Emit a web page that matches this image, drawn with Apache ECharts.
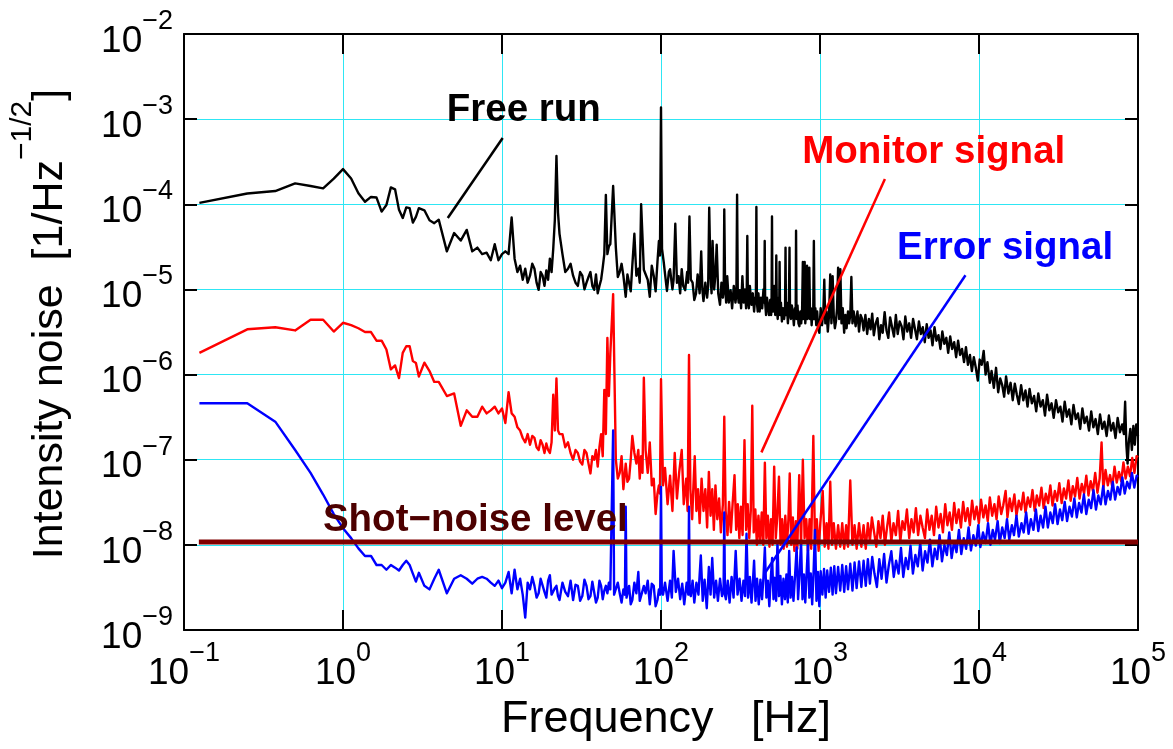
<!DOCTYPE html>
<html><head><meta charset="utf-8">
<script src="https://cdn.jsdelivr.net/npm/echarts@6/dist/echarts.min.js"></script>
<style>html,body{margin:0;padding:0;background:#fff}#chart{width:1173px;height:749px}</style>
</head><body><div id="chart"></div>
<script>
// ---- tick labels (decade exponents) ----
const xTickExponents = [-1, 0, 1, 2, 3, 4, 5];
const yTickExponents = [-9, -8, -7, -6, -5, -4, -3, -2];

// ---- Free run (black): [frequency Hz, noise 1/Hz^1/2] ----
const freeRun = [
[0.125,1.04e-4],[0.25,1.34e-4],[0.375,1.43e-4],[0.5,1.76e-4],[0.625,1.64e-4],[0.75,1.54e-4],[0.875,2.0e-4],[1.0,2.59e-4],[1.125,2.01e-4],[1.25,1.35e-4],[1.375,1.07e-4],[1.5,1.22e-4],[1.625,1.2e-4],[1.75,8.2e-5],[1.875,9.8e-5],[2.0,1.58e-4],[2.125,1.5e-4],[2.25,8.6e-5],[2.375,6.9e-5],[2.5,9.2e-5],[2.625,9.0e-5],[2.75,6.1e-5],[2.875,7.1e-5],[3.0,9.0e-5],
[3.25,8.5e-5],[3.5,6.5e-5],[3.75,6.0e-5],[4,6.6e-5],[4.5,2.8e-5],[5,4.6e-5],[5.5,3.75e-5],[6,5.0e-5],[6.5,2.8e-5],[7,3.1e-5],[7.5,2.6e-5],[8,2.7e-5],[8.5,2.2e-5],[9,3.4e-5],[9.5,2.2e-5],[10,2.6e-5],[10.5,2.8e-5],[11,2.6e-5],[11.5,7.0e-5],[12,2.3e-5],[12.5,1.6e-5],[13,1.9e-5],[13.5,1.3e-5],[14,1.75e-5],[14.5,1.2e-5],[15,1.45e-5],[15.5,2.0e-5],[16,1.75e-5],[16.5,1.2e-5],[17,9.9e-6],[17.5,1.6e-5],[18,1.45e-5],[18.5,1.1e-5],[19,1.67e-5],[19.5,1.3e-5],[20,2.3e-5],[20.5,1.6e-5],[21,3.0e-5],[21.5,6.6e-5],[22,3.7e-4],[22.5,8.0e-5],[23,4.5e-5],[24,2.6e-5],[25,1.6e-5],[26,1.75e-5],[27,2.0e-5],[28,1.45e-5],[29,1.2e-5],[30,1.1e-5],[31,1.6e-5],[32,1.45e-5],[33,1.0e-5],[34,1.2e-5],[35,1.4e-5],[36,1.6e-5],[37,1.1e-5],[38,9.9e-6],[39,1.5e-5],[40,9.0e-6],[41,1.1e-5],[42,1.3e-5],[43,1.8e-5],[44,2.6e-5],[45,1.29e-4],[46,2.6e-5],[47,3.2e-5],[48,3.4e-5],[50,1.64e-4],[52,3.1e-5],[53.5,1.4e-5],[55,1.6e-5],[56.5,2.0e-5],[58,1.45e-5],[60,8.2e-6],[61.5,1.5e-5],[63,1.2e-5],[64.5,9.5e-6],[66,1.9e-5],[68,4.5e-5],[70,1.45e-5],[72,1.75e-5],[73.5,1.2e-5],[75,1.0e-4],[78,1.7e-5],[80,1.75e-5],[82.5,1.3e-5],[85,8.2e-6],[87.5,1.9e-5],[90,1.45e-5],[92.5,9.5e-6],[95,2.1e-5],[97,3.7e-5],[98.5,2.5e-5],[100,1.37e-3],
[101.5,3.0e-5],[104,2.1e-5],[107,1.3e-5],[109,9.6e-6],[112,1.6e-5],[114,1.73e-5],[118,1.0e-5],[120,1.3e-5],[123,5.9e-5],[126,1.2e-5],[129,1.43e-5],[132,9e-6],[135,1.73e-5],[138,1.1e-5],[142,9.8e-6],[146,1.6e-5],[148,1.2e-5],[151,7.2e-5],[154,1.3e-5],[158,1.2e-5],[162,7.5e-6],[166,8.9e-6],[170,1.5e-5],[175,9e-6],[179,2.8e-5],[182,1.0e-5],[185,7.3e-6],[190,1.2e-5],[195,8e-6],[198,1.1e-5],[201,9.1e-5],[205,1.4e-5],[208,9e-6],[211,3.7e-5],[216,1.0e-5],[220,1.5e-5],[224,3.35e-5],[229,9e-6],[235,6.6e-6],[240,1.2e-5],[245,8e-6],[248,1.0e-5],[250,8.7e-5],[253,1.1e-5],[257,7e-6],[261,1.43e-5],[267,7e-6],[274,9.8e-6],[280,6e-6],[287,1.1e-5],[294,7e-6],[298,9e-6],[301,1.3e-4],[304,9e-6],[308,7e-6],[313,9.8e-6],[319,6e-6],[325,1.43e-5],[331,7e-6],[337,1.0e-5],[343,6e-6],[346,9e-6],[349,4.25e-5],[352,8e-6],[357,6e-6],[362,1.1e-5],[371,6.6e-6],[378,9e-6],[385,5.5e-6],[391,8e-6],[395,7e-6],[398,9.3e-5],[401,7e-6],[406,5.5e-6],[410,9e-6],[417,5.5e-6],[425,8e-6],[433,6e-6],[441,1.0e-5],[446,7e-6],[449,3.7e-5],[452,7e-6],[458,5e-6],[464,8e-6],[470,8.1e-6],[478,5e-6],[486,7.5e-6],[493,5e-6],[496,7e-6],[499,7.2e-5],[502,7e-6],[508,5.5e-6],[515,1.1e-5],[523,5e-6],[528,7e-6],[531,2.5e-5],[535,6e-6],[542,4.5e-6],[550,8e-6],[554,6e-6],[557,2.1e-5],[561,5e-6],[568,7e-6],[576,4.2e-6],[585,6e-6],[595,4.5e-6],[603,6e-6],[607,3.1e-5],[611,5e-6],[619,7e-6],[628,4e-6],[637,6e-6],[643,3.1e-5],[648,5.5e-6],[656,4.5e-6],[665,6.5e-6],[674,5.5e-6],[685,3.8e-6],[696,6e-6],[703,5e-6],[707,4.9e-5],[712,4.5e-6],[722,6.5e-6],[732,4e-6],[742,3.7e-6],[752,5.5e-6],[762,4e-6],[772,6e-6],[780,2.1e-5],[786,4.5e-6],[794,6e-6],[801,2.1e-5],[808,4e-6],[818,5.5e-6],[829,1.9e-5],[836,4.5e-6],[846,6e-6],[857,1.8e-5],[866,4.5e-6],[876,6e-6],[886,3.8e-6],[896,5.5e-6],[906,4.5e-6],[915,3.7e-5],[924,4.5e-6],[935,6e-6],[947,3.8e-6],[960,5.5e-6],[975,3.5e-6],[990,3.1e-6],[1010,6e-6],[1030,3.8e-6],[1050,5.5e-6],[1064,1.3e-5],[1080,4e-6],[1100,5.5e-6],[1120,3.2e-6],[1140,5e-6],[1160,1.5e-5],[1180,4e-6],[1201,1.43e-5],[1220,5e-6],[1240,3.5e-6],[1260,4.2e-6],[1280,6e-6],[1300,1.8e-5],[1320,4.5e-6],[1343,1.73e-5],[1365,4e-6],[1390,6e-6],[1419,3.1e-6],[1445,5e-6],[1470,3.5e-6],[1500,5.5e-6],[1525,4e-6],[1550,5e-6],[1575,1.4e-5],[1600,4e-6],[1630,5.5e-6],[1675,3.7e-6],[1720,5.5e-6],[1760,3.2e-6],[1800,5e-6],[1840,4.5e-6],[1880,3.3e-6],[1930,5e-6],[1980,3e-6],[2030,4.5e-6],
[2080,3.4e-6],[2130,5.2e-6],[2180,2.9e-6],[2240,4.0e-6],[2300,4.6e-6],[2360,2.6e-6],[2420,3.8e-6],[2480,3.1e-6],[2550,5.4e-6],[2620,3.3e-6],[2690,2.7e-6],[2760,4.7e-6],[2840,3.6e-6],[2920,2.8e-6],[3000,5.0e-6],[3080,3.0e-6],[3170,4.2e-6],[3260,3.7e-6],[3350,2.6e-6],[3440,4.8e-6],[3540,3.2e-6],[3640,4.0e-6],[3740,2.7e-6],[3850,4.5e-6],[3960,3.4e-6],[4070,2.6e-6],[4190,4.2e-6],[4310,3.0e-6],[4430,3.6e-6],[4560,2.4e-6],[4690,3.9e-6],[4820,2.7e-6],[4960,3.3e-6],[5100,2.2e-6],[5250,3.6e-6],[5400,2.5e-6],[5560,2.9e-6],[5720,2.0e-6],[5880,3.2e-6],[6050,2.3e-6],[6230,2.7e-6],[6400,1.8e-6],[6590,2.8e-6],[6780,2.0e-6],[6980,2.4e-6],[7180,1.6e-6],[7390,2.5e-6],[7600,1.7e-6],[7820,2.0e-6],[8050,1.4e-6],[8280,2.1e-6],[8520,1.3e-6],[8770,1.7e-6],[9020,1.1e-6],[9280,1.6e-6],[9550,1.2e-6],[9830,8.5e-7],[10100,1.5e-6],[10400,1.3e-6],[10700,1.9e-6],[11000,1.0e-6],[11300,1.4e-6],[11700,8.0e-7],[12000,1.1e-6],[12400,7.0e-7],[12800,1.2e-6],[13200,6.2e-7],[13600,9.0e-7],[14000,7.5e-7],[14400,5.5e-7],[14800,9.5e-7],[15300,6.0e-7],[15800,8.0e-7],[16300,5.0e-7],[16800,7.8e-7],[17300,5.8e-7],[17800,4.5e-7],[18400,7.5e-7],[19000,5.0e-7],[19600,6.5e-7],[20200,4.2e-7],[20800,6.8e-7],[21500,4.6e-7],[22200,5.6e-7],[22900,3.7e-7],[23600,6.0e-7],[24400,4.2e-7],[25200,5.0e-7],[26000,3.3e-7],[26800,5.8e-7],[27700,3.8e-7],[28600,4.6e-7],[29500,3.1e-7],[30500,5.0e-7],[31500,3.6e-7],[32500,4.2e-7],[33500,2.8e-7],[34600,4.8e-7],[35700,3.2e-7],[36900,3.9e-7],[38100,2.6e-7],[39300,4.4e-7],[40600,3.0e-7],[41900,3.5e-7],[43300,2.3e-7],[44700,4.0e-7],[46100,2.7e-7],[47600,3.2e-7],[49200,2.2e-7],[50800,3.7e-7],[52400,2.4e-7],[54100,3.0e-7],[55900,2.0e-7],[57700,3.4e-7],[59600,2.3e-7],[61500,2.8e-7],[63500,1.9e-7],[65600,3.3e-7],[67700,2.2e-7],[69900,2.7e-7],[72200,1.8e-7],[74500,3.1e-7],[77000,2.1e-7],[79500,2.6e-7],[81500,2.0e-7],[83000,4.8e-7],[84500,1.5e-7],[86000,9.0e-8],[87500,1.6e-7],[89500,2.3e-7],[91500,1.3e-7],[93500,2.5e-7],[95500,1.5e-7],[97500,2.6e-7],[100000,1.9e-7]
];

// ---- Monitor signal (red) ----
const monitorSignal = [
[0.125,1.8e-6],[0.25,3.4e-6],[0.375,3.6e-6],[0.5,3.3e-6],[0.625,4.4e-6],[0.75,4.4e-6],[0.875,3.2e-6],[1.0,4.06e-6],[1.125,3.8e-6],[1.25,3.5e-6],[1.375,3.16e-6],[1.5,3.16e-6],[1.625,2.5e-6],[1.75,2.5e-6],[1.875,1.97e-6],[2.0,1.15e-6],[2.125,1.28e-6],[2.25,9.1e-7],[2.375,1.8e-6],[2.5,2.15e-6],[2.625,2.15e-6],[2.75,1.44e-6],[2.875,1.37e-6],[3.0,9.5e-7],
[3.25,1.38e-6],[3.5,1.1e-6],[3.75,8.2e-7],[4,8.2e-7],[4.5,5.6e-7],[5,6.0e-7],[5.5,2.5e-7],[6,3.8e-7],[6.5,3.2e-7],[7,3.2e-7],[7.5,4.2e-7],[8,3.5e-7],[8.5,3.8e-7],[9,4.2e-7],[9.5,3.5e-7],[10,4.0e-7],[10.5,2.7e-7],[11,6.2e-7],[11.5,3.5e-7],[12,3.2e-7],[12.5,2.4e-7],[13,2.2e-7],[13.5,1.8e-7],[14,1.6e-7],[14.5,2.0e-7],[15,1.5e-7],[15.5,1.9e-7],[16,1.8e-7],[16.5,1.4e-7],[17,1.3e-7],[17.5,1.7e-7],[18,1.5e-7],[18.5,1.2e-7],[19,1.55e-7],[19.5,1.3e-7],[20,1.2e-7],[20.5,1.6e-7],[21,5.8e-7],[21.5,2.2e-7],[22,9.0e-7],[22.5,2.2e-7],[23,2.0e-7],[24,2.0e-7],[25,1.4e-7],[26,1.6e-7],[27,1.2e-7],[28,1.0e-7],[29,1.3e-7],[30,1.2e-7],[31,9.5e-8],[32,8.8e-8],[33,1.3e-7],[34,1.2e-7],[35,9e-8],[36,6.9e-8],[37,1.1e-7],[38,1.0e-7],[39,1.3e-7],[40,8.3e-8],[41,1.4e-7],[42,2.0e-7],[43,1.1e-7],[44,6.6e-7],[45,2.0e-7],[46,2.7e-6],[47,5.6e-7],[48,1.75e-6],[50,8.8e-6],[52,1.0e-7],[53.5,6e-8],[55,7e-8],[56.5,1.1e-7],[58,4.5e-8],[60,9.0e-8],[61.5,5.5e-8],[63,6.0e-8],[64.5,1.0e-7],[66,1.9e-7],[68,1.2e-7],[70,9.0e-8],[72,1.3e-7],[73.5,6e-8],[75,1.1e-7],[76.5,7e-8],[78,9.2e-7],[80,1.3e-7],[82.5,7e-8],[85,1.6e-7],[87.5,5e-8],[90,6.0e-8],[92.5,2.3e-8],[95,4e-8],[97,5e-8],[98.5,4e-8],[100,8.8e-7],
[103,5.0e-8],[106,8e-8],[110,3.0e-8],[114,6.5e-8],[118,2.5e-8],[122,1.2e-7],[126,3.5e-8],[130,7e-8],[135,1.3e-7],[139,3e-8],[144,6e-8],[147,2.5e-8],[150,1.7e-6],[153,4.5e-8],[157,2e-8],[160,5e-8],[163,1.1e-7],[167,2.5e-8],[171,4.5e-8],[175,1.8e-8],[180,6e-8],[185,2.5e-8],[190,4.5e-8],[195,1.6e-8],[200,7.2e-8],[205,2.2e-8],[210,4.5e-8],[215,1.5e-8],[220,5e-8],[226,2e-8],[232,3.5e-8],[238,1.4e-8],[245,3e-8],[250,3.2e-7],[255,2.5e-8],[262,1.3e-8],[268,3.2e-8],[275,1.4e-8],[282,3e-8],[290,6.6e-8],[297,1.5e-8],[304,3e-8],[311,1.2e-8],[318,2.8e-8],[326,1.3e-8],[335,1.7e-7],[343,1.5e-8],[351,3e-8],[359,1.2e-8],[367,2.5e-8],[375,4.3e-7],[383,1.4e-8],[392,2.6e-8],[401,1e-8],[410,2.2e-8],[420,1.1e-8],[430,2.4e-8],[440,1e-8],[450,9.2e-8],[460,1.2e-8],[470,2.2e-8],[481,9.5e-9],[492,2.0e-8],[503,1.0e-8],[515,8.3e-8],[527,1.2e-8],[539,2.2e-8],[552,6.3e-8],[565,1.0e-8],[578,2.0e-8],[591,9e-9],[605,2.2e-8],[619,9.5e-9],[633,2e-8],[645,6.9e-8],[660,1.0e-8],[675,2.1e-8],[690,8.5e-9],[705,1.9e-8],[720,9e-9],[740,6.6e-8],[760,1.0e-8],[780,1.0e-7],[800,1.2e-8],[820,2e-8],[840,8.5e-9],[860,2.0e-8],[880,9e-9],[908,1.9e-7],[930,1.0e-8],[955,2.0e-8],[980,8.5e-9],[1005,1.8e-8],[1040,4.3e-8],[1070,9.5e-9],[1100,1.8e-8],[1130,9e-9],[1160,5.5e-8],[1190,1.0e-8],[1220,1.8e-8],[1260,9e-9],[1300,1.7e-8],[1340,9.5e-9],[1380,1.8e-8],[1420,9e-9],[1460,1.7e-8],[1500,9.5e-9],[1550,5.7e-8],[1600,1.0e-8],[1650,1.7e-8],[1700,9e-9],[1760,1.8e-8],[1820,9.5e-9],[1880,1.7e-8],[1940,9e-9],[2000,1.8e-8],
[2060,1.1e-8],[2120,2.1e-8],[2190,1.4e-8],[2260,9.5e-9],[2330,1.9e-8],[2400,1.2e-8],[2480,2.2e-8],[2560,1.0e-8],[2640,1.6e-8],[2720,2.4e-8],[2810,1.1e-8],[2900,1.8e-8],[3000,1.3e-8],[3100,2.5e-8],[3200,1.1e-8],[3300,1.9e-8],[3410,1.5e-8],[3520,2.6e-8],[3640,1.2e-8],[3760,2.0e-8],[3880,1.4e-8],[4010,2.7e-8],[4140,1.3e-8],[4280,2.2e-8],[4420,1.6e-8],[4570,1.2e-8],[4720,2.6e-8],[4880,1.5e-8],[5040,2.2e-8],[5210,1.3e-8],[5380,2.8e-8],[5560,1.6e-8],[5740,2.3e-8],[5930,1.4e-8],[6130,3.0e-8],[6330,1.7e-8],[6540,2.4e-8],[6760,1.5e-8],[6980,3.1e-8],[7210,1.8e-8],[7450,2.6e-8],[7700,1.6e-8],[7950,3.2e-8],[8210,1.9e-8],[8480,2.7e-8],[8760,1.7e-8],[9050,3.3e-8],[9350,2.0e-8],[9660,2.8e-8],[9980,1.8e-8],[10300,3.4e-8],[10650,2.1e-8],[11000,2.9e-8],[11350,1.9e-8],[11700,3.6e-8],[12100,2.2e-8],[12500,3.0e-8],[12900,2.0e-8],[13300,3.7e-8],[13800,2.3e-8],[14200,2.9e-8],[14700,4.3e-8],[15100,2.1e-8],[15600,3.5e-8],[16100,2.5e-8],[16700,3.9e-8],[17200,2.2e-8],[17800,3.3e-8],[18400,2.6e-8],[19000,4.1e-8],[19600,2.4e-8],[20300,3.6e-8],[21000,2.8e-8],[21700,4.4e-8],[22400,2.5e-8],[23100,3.8e-8],[23900,2.9e-8],[24700,4.7e-8],[25500,2.7e-8],[26300,4.0e-8],[27200,3.1e-8],[28100,5.0e-8],[29000,2.9e-8],[30000,4.3e-8],[31000,3.3e-8],[32000,5.3e-8],[33100,3.1e-8],[34200,4.6e-8],[35300,3.5e-8],[36500,5.7e-8],[37700,3.3e-8],[38900,4.9e-8],[40200,3.7e-8],[41500,6.1e-8],[42900,3.5e-8],[44300,5.2e-8],[45800,4.0e-8],[47300,6.5e-8],[48800,3.8e-8],[50400,5.6e-8],[52100,4.3e-8],[53800,7.0e-8],[55600,4.1e-8],[57400,6.0e-8],[59000,1.6e-7],[60500,4.5e-8],[62500,7.6e-8],[64600,5.0e-8],[66700,6.6e-8],[68900,4.8e-8],[71200,8.3e-8],[73500,5.4e-8],[75900,7.2e-8],[78400,5.6e-8],[81000,9.3e-8],[83600,6.0e-8],[86300,8.3e-8],[89100,6.4e-8],[92000,1.05e-7],[95000,7.0e-8],[98000,1.1e-7],[100000,1.07e-7]
];

// ---- Error signal (blue) ----
const errorSignal = [
[0.125,4.6e-7],[0.25,4.6e-7],[0.375,2.8e-7],[0.5,1.3e-7],[0.625,7.0e-8],[0.75,3.9e-8],[0.875,2.3e-8],[1.0,1.57e-8],[1.125,1.2e-8],[1.25,9.1e-9],[1.375,7.4e-9],[1.5,7.4e-9],[1.625,5.8e-9],[1.75,5.8e-9],[1.875,5.1e-9],[2.0,5.8e-9],[2.125,5.4e-9],[2.25,5.0e-9],[2.375,5.8e-9],[2.5,6.5e-9],[2.625,5.8e-9],[2.75,4.6e-9],[2.875,3.7e-9],[3.0,4.7e-9],
[3.25,3.3e-9],[3.5,3.0e-9],[3.75,4.0e-9],[4,5.1e-9],[4.5,2.7e-9],[5,4.0e-9],[5.5,4.4e-9],[6,4.0e-9],[6.5,3.5e-9],[7,4.0e-9],[7.5,4.2e-9],[8,4.0e-9],[8.5,3.6e-9],[9,3.3e-9],[9.5,3.8e-9],[10,3.1e-9],[10.5,3.6e-9],[11,4.8e-9],[11.5,2.7e-9],[12,5.1e-9],[12.5,3.0e-9],[13,4.0e-9],[13.5,2.6e-9],[14,1.4e-9],[14.5,3.6e-9],[15,3.0e-9],[15.5,4.2e-9],[16,3.3e-9],[16.5,2.4e-9],[17,2.7e-9],[17.5,4.0e-9],[18,4.0e-9],[18.5,2.8e-9],[19,2.4e-9],[19.5,3.8e-9],[20,4.4e-9],[20.5,2.6e-9],[21,2.7e-9],[21.5,3.1e-9],[22,3.3e-9],[22.5,2.5e-9],[23,2.25e-9],[24,3.6e-9],[25,2.8e-9],[26,2.5e-9],[27,3.8e-9],[28,2.25e-9],[29,3.4e-9],[30,3.3e-9],[31,2.2e-9],[32,2.5e-9],[33,3.9e-9],[34,3.3e-9],[35,2.3e-9],[36,2.5e-9],[37,3.7e-9],[38,3.6e-9],[39,2.1e-9],[40,2.4e-9],[41,3.8e-9],[42,3.3e-9],[43,2.3e-9],[44,2.9e-9],[45,3.3e-9],[46,2.7e-9],[47,3.6e-9],[48,3.0e-9],[49.3,3.0e-9],[50,2.2e-7],[50.7,2.6e-9],[52,2.5e-9],[53.5,3.6e-9],[55,2.7e-9],[56.5,2.1e-9],[58,3.0e-9],[59.3,2.6e-9],[60,2.8e-8],[60.7,2.4e-9],[61.5,2.4e-9],[63,3.3e-9],[64.5,2.0e-9],[66,2.25e-9],[68,3.6e-9],[70,2.7e-9],[72,4.8e-9],[73.5,2.2e-9],[75,2.25e-9],[78,3.3e-9],[80,2.7e-9],[82.5,3.8e-9],[85,2.0e-9],[87.5,3.5e-9],[90,3.3e-9],[92.5,1.9e-9],[95,2.25e-9],[97,3.0e-9],[98.8,2.6e-9],[100,4.8e-8],
[101.2,2.8e-9],[103,2.6e-9],[106,3.6e-9],[110,2.2e-9],[114,3.8e-9],[117,2.4e-9],[120,8.5e-9],[124,2.8e-9],[128,4.0e-9],[132,2.3e-9],[136,3.5e-9],[140,2.0e-9],[145,3.6e-9],[148.5,2.6e-9],[150,2.8e-8],[151.5,2.8e-9],[154,2.5e-9],[158,3.8e-9],[162,2.1e-9],[167,3.6e-9],[172,2.6e-9],[178,7.5e-9],[183,2.2e-9],[188,3.9e-9],[194,1.8e-9],[200,5.5e-9],[205,2.6e-9],[210,7e-9],[216,2.4e-9],[222,3.8e-9],[228,2.2e-9],[235,4.0e-9],[242,2.5e-9],[247.5,3.0e-9],[250,2.4e-8],[252.5,2.6e-9],[256,2.3e-9],[263,3.8e-9],[270,2.1e-9],[278,4.2e-9],[286,2.4e-9],[295,8.5e-9],[303,2.6e-9],[312,4.0e-9],[321,2.2e-9],[330,3.8e-9],[338,2.5e-9],[345,1.35e-8],[353,2.4e-9],[362,4.2e-9],[371,2.1e-9],[378,3.6e-9],[385,6.5e-9],[393,2.2e-9],[402,4.0e-9],[412,2.0e-9],[422,3.9e-9],[432,2.3e-9],[441,4.2e-9],[450,9.3e-9],[460,2.4e-9],[470,3.8e-9],[480,1.9e-9],[490,4.0e-9],[500,7.0e-9],[510,2.3e-9],[520,4.1e-9],[530,2.2e-9],[540,1.1e-8],[552,2.5e-9],[564,4.3e-9],[576,2.0e-9],[589,4.0e-9],[602,2.3e-9],[615,4.5e-9],[627,2.1e-9],[640,8.5e-9],[653,2.4e-9],[667,4.2e-9],[681,2.2e-9],[697,4.4e-9],[713,9.3e-9],[728,2.3e-9],[744,4.6e-9],[760,1.1e-8],[776,2.3e-9],[792,4.5e-9],[808,2.1e-9],[824,4.7e-9],[840,1.0e-8],[857,2.4e-9],[875,4.6e-9],[893,2.0e-9],[911,4.8e-9],[930,1.5e-8],[950,2.2e-9],[970,4.8e-9],[990,1.9e-9],[1010,4.9e-9],[1035,2.6e-9],[1060,5.2e-9],[1085,2.4e-9],[1110,5.0e-9],[1140,2.8e-9],[1170,5.4e-9],[1200,2.6e-9],[1230,5.6e-9],[1260,2.7e-9],[1300,5.5e-9],[1340,2.9e-9],[1380,5.8e-9],[1420,2.8e-9],[1460,5.6e-9],[1500,3.0e-9],[1550,6.0e-9],[1600,2.9e-9],[1650,6.2e-9],[1700,3.1e-9],[1760,6.4e-9],[1820,3.2e-9],[1880,6.5e-9],[1940,3.3e-9],[2000,6.8e-9],
[2060,3.5e-9],[2130,7.2e-9],[2200,4.6e-9],[2280,3.2e-9],[2360,6.8e-9],[2440,4.0e-9],[2530,7.8e-9],[2620,3.6e-9],[2710,5.8e-9],[2810,8.4e-9],[2910,4.2e-9],[3010,6.5e-9],[3120,4.6e-9],[3230,9.2e-9],[3340,4.2e-9],[3460,7.0e-9],[3580,5.2e-9],[3710,9.8e-9],[3840,4.6e-9],[3980,7.6e-9],[4120,5.6e-9],[4270,1.06e-8],[4420,5.0e-9],[4580,8.4e-9],[4740,6.2e-9],[4910,1.15e-8],[5090,5.6e-9],[5270,9.0e-9],[5460,6.8e-9],[5650,1.3e-8],[5850,6.4e-9],[6060,1.0e-8],[6280,7.6e-9],[6500,1.4e-8],[6730,7.0e-9],[6970,1.1e-8],[7220,8.2e-9],[7480,1.5e-8],[7740,7.8e-9],[8020,1.2e-8],[8300,9.0e-9],[8600,1.6e-8],[8900,8.6e-9],[9220,1.3e-8],[9550,9.8e-9],[9890,1.7e-8],[10200,9.4e-9],[10600,1.4e-8],[11000,1.05e-8],[11400,1.8e-8],[11800,1.0e-8],[12200,1.5e-8],[12600,1.15e-8],[13100,1.9e-8],[13500,1.05e-8],[14000,1.6e-8],[14500,1.2e-8],[15000,2.0e-8],[15500,1.15e-8],[16100,1.7e-8],[16600,1.3e-8],[17200,2.2e-8],[17800,1.25e-8],[18500,1.8e-8],[19100,1.4e-8],[19800,2.4e-8],[20500,1.35e-8],[21200,2.0e-8],[22000,1.5e-8],[22800,2.6e-8],[23600,1.45e-8],[24400,2.2e-8],[25300,1.6e-8],[26200,2.8e-8],[27100,1.6e-8],[28100,2.4e-8],[29100,1.8e-8],[30100,3.0e-8],[31200,1.75e-8],[32300,2.6e-8],[33400,1.95e-8],[34600,3.2e-8],[35800,1.9e-8],[37100,2.8e-8],[38400,2.15e-8],[39800,3.5e-8],[41200,2.1e-8],[42600,3.1e-8],[44100,2.4e-8],[45700,3.9e-8],[47300,2.3e-8],[49000,3.4e-8],[50700,2.7e-8],[52500,4.4e-8],[54400,2.6e-8],[56300,3.8e-8],[58300,3.0e-8],[60400,4.9e-8],[62500,3.0e-8],[64700,4.3e-8],[67000,3.4e-8],[69400,5.5e-8],[71800,3.4e-8],[74400,4.8e-8],[77000,3.9e-8],[79700,6.2e-8],[82500,4.0e-8],[85500,5.5e-8],[88500,4.6e-8],[91600,7.0e-8],[94800,4.7e-8],[98100,6.5e-8],[100000,6.3e-8]
];

// ---- Shot-noise level (maroon) ----
const shotNoiseLevel = [[0.124, 1.08e-8], [100000, 1.08e-8]];

// ---- annotation texts and pointer lines (in data coordinates) ----
const annotationTexts = [
  { text: 'Free run', f: 13.7, v: 1.26e-3, color: '#000000' },
  { text: 'Monitor signal', f: 5190, v: 4.1e-4, color: '#ff0000' },
  { text: 'Error signal', f: 14600, v: 3.05e-5, color: '#0000ff' },
  { text: 'Shot\u2212noise level', f: 6.8, v: 1.95e-8, color: '#4d0000' }
];
const freeRunPointer = [[10.1, 6.0e-4], [4.56, 6.9e-5]];
const monitorPointer = [[2560, 1.98e-4], [428, 1.22e-7]];
const errorPointer = [[8220, 1.47e-5], [448, 4.6e-9]];

// ---- chart ----
const FONT = '"Liberation Sans", Arial, Helvetica, sans-serif';
const expOf = v => Math.round(Math.log10(v));
const supText = e => (e < 0 ? '\u2212' + (-e) : String(e));
const tickFormatter = exps => v => {
  const e = expOf(v);
  return exps.includes(e) ? '{b|10}{s|' + supText(e) + '}' : '';
};
const tickRich = {
  b: { fontSize: 37, fontFamily: FONT, color: '#000', lineHeight: 52, verticalAlign: 'bottom' },
  s: { fontSize: 27, fontFamily: FONT, color: '#000', verticalAlign: 'top' }
};
const frameLine = { show: true, onZero: false, lineStyle: { color: '#000', width: 2 } };

const chart = echarts.init(document.getElementById('chart'), null, { renderer: 'canvas', width: 1173, height: 749 });
const lineSeries = (name, data, color, width, z) => ({
  name, type: 'line', data, xAxisIndex: 0, yAxisIndex: 0,
  showSymbol: false, symbol: 'none', silent: true, z,
  lineStyle: { color, width, join: 'round', cap: 'butt', opacity: 1 }
});

chart.setOption({
  animation: false,
  backgroundColor: '#ffffff',
  textStyle: { fontFamily: FONT },
  grid: { left: 180, top: 34, width: 958, height: 596, containLabel: false },
  xAxis: [
    {
      type: 'log', logBase: 10, min: 0.1, max: 100000, position: 'bottom',
      axisLine: frameLine,
      axisTick: { show: true, inside: true, length: 20, lineStyle: { color: '#000', width: 2 } },
      minorTick: { show: false },
      splitLine: { show: true, lineStyle: { color: '#2ee6f4', width: 1 } },
      axisLabel: { show: true, margin: 10, formatter: tickFormatter(xTickExponents), rich: tickRich, showMinLabel: true, showMaxLabel: true },
      name: 'Frequency   [Hz]', nameLocation: 'middle', nameGap: 65,
      nameTextStyle: { fontSize: 45, fontFamily: FONT, color: '#000', lineHeight: 46, padding: [0, 0, 0, 10] }
    },
    {
      type: 'log', logBase: 10, min: 0.1, max: 100000, position: 'top',
      axisLine: frameLine,
      axisTick: { show: true, inside: true, length: 20, lineStyle: { color: '#000', width: 2 } },
      splitLine: { show: false }, axisLabel: { show: false }
    }
  ],
  yAxis: [
    {
      type: 'log', logBase: 10, min: 1e-9, max: 1e-2, position: 'left',
      axisLine: frameLine,
      axisTick: { show: true, inside: true, length: 13, lineStyle: { color: '#000', width: 2 } },
      minorTick: { show: false },
      splitLine: { show: true, lineStyle: { color: '#2ee6f4', width: 1 } },
      axisLabel: { show: true, margin: 11, formatter: tickFormatter(yTickExponents), rich: tickRich, showMinLabel: true, showMaxLabel: true },
      name: '{t|Intensity noise  [1/Hz}{s|\u22121/2}{t|]}', nameLocation: 'middle', nameGap: 112, nameRotate: 90,
      nameTextStyle: {
        padding: [0, 0, 0, 16],
        rich: {
          t: { fontSize: 43, fontFamily: FONT, color: '#000', lineHeight: 64, verticalAlign: 'bottom' },
          s: { fontSize: 30, fontFamily: FONT, color: '#000', verticalAlign: 'top' }
        }
      }
    },
    {
      type: 'log', logBase: 10, min: 1e-9, max: 1e-2, position: 'right',
      axisLine: frameLine,
      axisTick: { show: true, inside: true, length: 13, lineStyle: { color: '#000', width: 2 } },
      splitLine: { show: false }, axisLabel: { show: false }
    }
  ],
  series: [
    lineSeries('Free run', freeRun, '#000000', 2.4, 3),
    lineSeries('Monitor signal', monitorSignal, '#ff0000', 2.4, 4),
    lineSeries('Error signal', errorSignal, '#0000ff', 2.4, 5),
    lineSeries('Shot-noise level', shotNoiseLevel, '#800000', 5, 6),
    lineSeries('Free run pointer', freeRunPointer, '#000000', 2.5, 7),
    lineSeries('Monitor pointer', monitorPointer, '#ff0000', 2.5, 7),
    lineSeries('Error pointer', errorPointer, '#0000ff', 2.5, 7),
    {
      type: 'scatter', xAxisIndex: 0, yAxisIndex: 0, symbolSize: 0, silent: true, z: 8, clip: false,
      itemStyle: { opacity: 1 },
      data: annotationTexts.map(a => ({ name: a.text, value: [a.f, a.v], label: { color: a.color } })),
      label: { show: true, position: [0, 0], align: 'center', verticalAlign: 'middle', formatter: '{b}',
        fontSize: 38.5, fontWeight: 'bold', fontFamily: FONT, opacity: 1 },
      emphasis: { disabled: true }
    }
  ]
});
</script>
</body></html>
